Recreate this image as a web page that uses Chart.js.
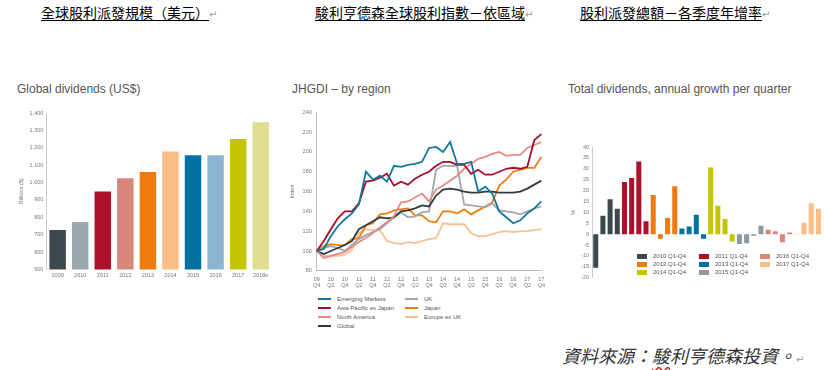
<!DOCTYPE html>
<html>
<head>
<meta charset="utf-8">
<script src="https://cdn.jsdelivr.net/npm/chart.js@4"></script>
<style>
  body { margin: 0; width: 829px; height: 370px; background: #fff; position: relative; overflow: hidden;
         font-family: "Liberation Sans", Arial, sans-serif; }
  .hd { position: absolute; top: 3px; font-family: "Noto Sans CJK TC", sans-serif; font-size: 14px;
        line-height: 18px; color: #000; white-space: nowrap; }
  .hd u { text-decoration: underline; text-underline-offset: 2px; }
  .ret { color: #999; font-size: 10px; font-family: "DejaVu Sans", sans-serif; }
  .ttl { position: absolute; top: 82px; font-size: 12px; color: #555; white-space: nowrap; }
  .box { position: absolute; }
  .leg { position: absolute; font-size: 6px; color: #555; white-space: nowrap; }
  .leg div { position: absolute; display: flex; align-items: center; }
  .leg i { display: inline-block; margin-right: 6px; }
  .src { position: absolute; left: 562px; top: 342px; font-family: "Noto Sans CJK TC", sans-serif;
         font-size: 18px; font-style: italic; color: #333; white-space: nowrap; }
  .src .sp { text-decoration: underline wavy #d33; text-underline-offset: 3px; }
</style>
</head>
<body>

<div class="hd" style="left:41px"><u>全球股利派發規模（美元）</u><span class="ret">↵</span></div>
<div class="hd" style="left:315px"><u>駿利亨德森全球股利指數－依區域</u><span class="ret">↵</span></div>
<div class="hd" style="left:580px"><u>股利派發總額－各季度年增率</u><span class="ret">↵</span></div>

<div class="ttl" style="left:17px">Global dividends (US$)</div>
<div class="ttl" style="left:292px">JHGDI – by region</div>
<div class="ttl" style="left:568px">Total dividends, annual growth per quarter</div>

<div class="box" style="left:0px;top:104px"><canvas id="c1" width="280" height="182"></canvas></div>
<div class="box" style="left:280px;top:104px"><canvas id="c2" width="270" height="190"></canvas></div>
<div class="box" style="left:560px;top:140px"><canvas id="c3" width="269" height="144"></canvas></div>

<div class="leg" id="leg2"></div>
<div class="leg" id="leg3"></div>

<div class="src">資料來源：<span class="sp">駿</span>利亨德森投資。<span class="ret" style="font-style:normal">↵</span></div>

<script>
// ---- chart 1: global dividends
const years = ['2009', '2010', '2011', '2012', '2013', '2014', '2015', '2016', '2017', '2018e'];
const dividends = [727, 773, 948, 1025, 1060, 1178, 1157, 1157, 1250, 1347];
const yearColors = ['#3c484e', '#9ba8ae', '#b0112a', '#d9877b', '#ee7b10', '#f9bd88',
                    '#0270a1', '#8bb5d3', '#c4c400', '#e1dd90'];

// ---- chart 2: JHGDI by region
const quarters = ['09 Q4', '10 Q1', '10 Q2', '10 Q3', '10 Q4', '11 Q1', '11 Q2', '11 Q3', '11 Q4',
                  '12 Q1', '12 Q2', '12 Q3', '12 Q4', '13 Q1', '13 Q2', '13 Q3', '13 Q4',
                  '14 Q1', '14 Q2', '14 Q3', '14 Q4', '15 Q1', '15 Q2', '15 Q3', '15 Q4',
                  '16 Q1', '16 Q2', '16 Q3', '16 Q4', '17 Q1', '17 Q2', '17 Q3', '17 Q4'];
const emerging = [100, 102, 115, 125, 132, 138, 147, 180, 172, 176, 170, 186, 185, 187, 188, 190,
                  204, 205, 200, 210, 188, 188, 190, 160, 165, 158, 140, 134, 128, 131, 138, 143, 150];
const asiaPac  = [100, 110, 122, 133, 140, 140, 148, 170, 171, 174, 178, 166, 170, 167, 173, 177,
                  180, 186, 190, 190, 187, 187, 178, 182, 177, 177, 180, 183, 184, 183, 185, 212, 218];
const northAm  = [100, 93, 95, 97, 99, 104, 109, 113, 118, 124, 129, 135, 149, 150, 154, 158,
                  150, 162, 166, 171, 176, 183, 188, 193, 195, 198, 200, 196, 197, 197, 204, 207, 210];
const globalIx = [100, 97, 100, 103, 106, 110, 122, 126, 130, 134, 133, 134, 140, 141, 143, 146,
                  145, 156, 162, 163, 162, 160, 159, 159, 160, 160, 159, 159, 159, 160, 163, 167, 171];
const uk       = [100, 103, 105, 103, 100, 106, 112, 116, 119, 122, 128, 134, 139, 134, 135, 139,
                  140, 182, 186, 186, 186, 147, 146, 145, 144, 148, 141, 140, 139, 137, 140, 143, 145];
const japan    = [100, 105, 107, 106, 106, 112, 113, 126, 128, 137, 138, 141, 142, 143, 136, 136,
                  130, 129, 140, 140, 138, 142, 137, 141, 145, 149, 166, 172, 180, 182, 184, 184, 195];
const europe   = [100, 95, 95, 95, 96, 101, 118, 122, 121, 121, 110, 108, 107, 109, 108, 110,
                  112, 113, 128, 127, 127, 127, 118, 115, 115, 117, 119, 120, 119, 120, 120, 121, 122];
const regionNames  = ['Emerging Markets', 'Asia Pacific ex Japan', 'North America', 'Global',
                      'UK', 'Japan', 'Europe ex UK'];
const regionSeries = [emerging, asiaPac, northAm, globalIx, uk, japan, europe];
const regionColors = ['#11779e', '#a60f29', '#e28b81', '#2f3b41', '#a2a7aa', '#ef7e12', '#f8c093'];

// ---- chart 3: annual growth per quarter (%)
const growthGroups = ['2010 Q1-Q4', '2011 Q1-Q4', '2012 Q1-Q4', '2013 Q1-Q4',
                      '2014 Q1-Q4', '2015 Q1-Q4', '2016 Q1-Q4', '2017 Q1-Q4'];
const g2010 = [-15.4, 8.4, 16.0, 11.6];
const g2011 = [23.9, 25.8, 33.3, 5.9];
const g2012 = [18.0, -2.1, 7.4, 22.0];
const g2013 = [2.6, 3.5, 8.9, -2.1];
const g2014 = [30.6, 13.0, 6.9, -3.4];
const g2015 = [-4.5, -4.2, -0.7, 3.9];
const g2016 = [2.0, 1.3, -3.7, 0.8];
const g2017 = [-0.3, 5.2, 14.2, 11.7];
const growthColors = ['#3c484e', '#b0112a', '#ee7b10', '#0270a1', '#c4c400', '#8f9aa0', '#d9877b', '#f9bd88'];

Chart.defaults.font.family = "'Liberation Sans', Arial, sans-serif";
Chart.defaults.color = '#777';
Chart.defaults.animation = false;

const tickFont = { size: 5.5 };

new Chart(document.getElementById('c1'), {
  type: 'bar',
  data: {
    labels: years,
    datasets: [{ data: dividends, backgroundColor: yearColors, barPercentage: 0.73, categoryPercentage: 1 }]
  },
  options: {
    responsive: false,
    layout: { padding: { left: 16, right: 8, top: 9, bottom: 4 } },
    plugins: { legend: { display: false }, tooltip: { enabled: false } },
    scales: {
      x: {
        grid: { display: false, drawTicks: false }, border: { display: false },
        ticks: { font: tickFont, maxRotation: 0, padding: 3 }
      },
      y: {
        min: 500, max: 1400,
        grid: { display: false, drawTicks: false }, border: { color: '#ccc' },
        ticks: { stepSize: 100, font: tickFont, padding: 3, callback: v => v.toLocaleString('en-US') },
        title: { display: true, text: 'Billions ($)', font: tickFont, padding: 2 }
      }
    }
  }
});

new Chart(document.getElementById('c2'), {
  type: 'line',
  data: {
    labels: quarters,
    datasets: regionNames.map((name, k) => ({
      label: name, data: regionSeries[k], borderColor: regionColors[k],
      borderWidth: 1.8, pointRadius: 0, tension: 0, fill: false
    }))
  },
  options: {
    responsive: false,
    layout: { padding: { left: 7, right: 8, top: 4, bottom: 0 } },
    plugins: { legend: { display: false }, tooltip: { enabled: false } },
    scales: {
      x: {
        grid: { display: false, drawTicks: false }, border: { color: '#bbb' },
        ticks: {
          font: tickFont, autoSkip: false, maxRotation: 0, padding: 5,
          callback: function (v, i) { return i % 2 === 0 ? quarters[i].split(' ') : ''; }
        }
      },
      y: {
        min: 80, max: 240,
        grid: { display: false, drawTicks: false }, border: { color: '#bbb' },
        ticks: { stepSize: 20, font: tickFont, padding: 5 },
        title: { display: true, text: 'Index', font: tickFont, padding: 2 }
      }
    }
  }
});

const growthAll = [].concat(g2010, g2011, g2012, g2013, g2014, g2015, g2016, g2017);
const growthBarColors = [];
growthColors.forEach(c => { for (let q = 0; q < 4; q++) growthBarColors.push(c); });

new Chart(document.getElementById('c3'), {
  type: 'bar',
  data: {
    labels: growthAll.map((v, i) => growthGroups[Math.floor(i / 4)] + ' ' + (i % 4 + 1)),
    datasets: [{ data: growthAll, backgroundColor: growthBarColors, barPercentage: 0.7, categoryPercentage: 1 }]
  },
  options: {
    responsive: false,
    layout: { padding: { left: 8, right: 7, top: 7, bottom: 6 } },
    plugins: { legend: { display: false }, tooltip: { enabled: false } },
    scales: {
      x: {
        display: true, grid: { display: false, drawTicks: false }, border: { display: false },
        ticks: { display: false }
      },
      y: {
        min: -20, max: 40,
        grid: { display: false, drawTicks: false }, border: { color: '#ccc' },
        ticks: { stepSize: 5, font: tickFont, padding: 3 },
        title: { display: true, text: '%', font: { size: 6 }, padding: 1.5 }
      }
    }
  }
});

// ---- HTML legends
function buildLegend(id, names, colors, slots, sw) {
  const host = document.getElementById(id);
  names.forEach((n, k) => {
    const d = document.createElement('div');
    d.style.left = slots[k][0] + 'px';
    d.style.top = slots[k][1] + 'px';
    const sample = document.createElement('i');
    sample.style.width = sw[0] + 'px';
    sample.style.height = sw[1] + 'px';
    sample.style.background = colors[k];
    d.appendChild(sample);
    d.appendChild(document.createTextNode(n));
    host.appendChild(d);
  });
}
buildLegend('leg2', regionNames, regionColors,
  [[318, 296], [318, 305], [318, 314], [318, 323], [405, 296], [405, 305], [405, 314]], [13, 2]);
buildLegend('leg3', growthGroups, growthColors,
  [[637, 253], [699, 253], [637, 261], [699, 261], [637, 269], [699, 269], [760, 253], [760, 261]], [10, 5]);
</script>
</body>
</html>
